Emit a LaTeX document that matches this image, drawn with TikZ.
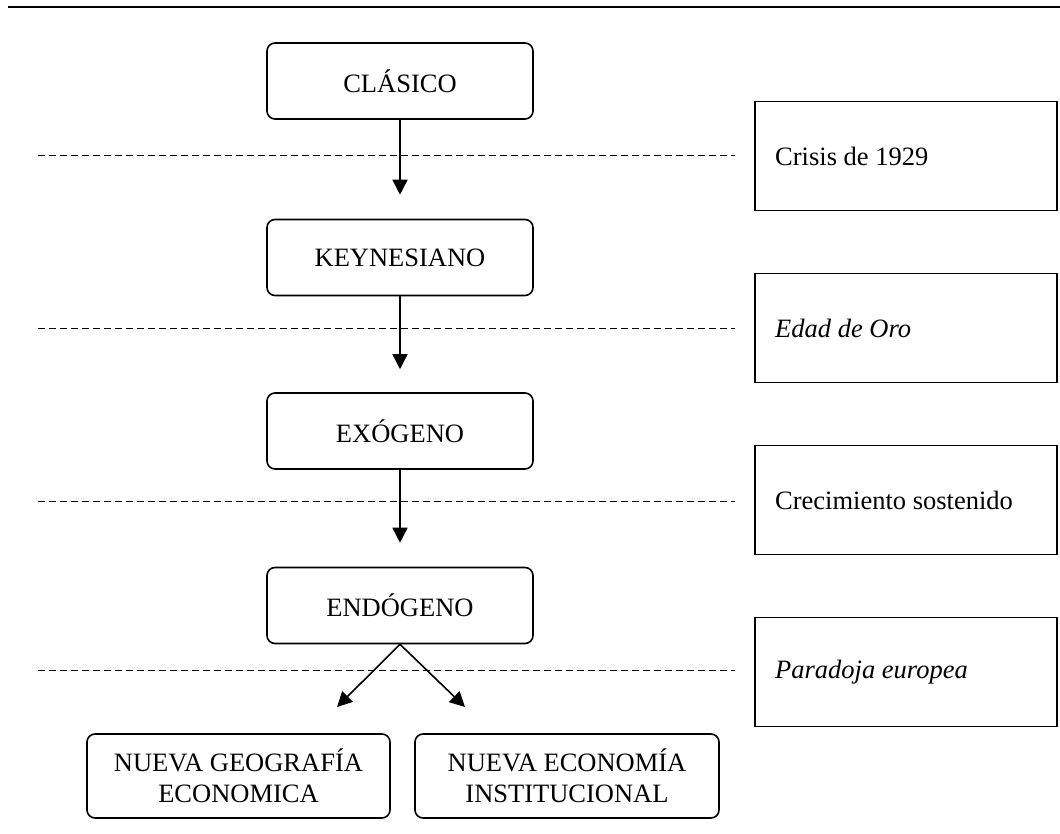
\documentclass[tikz,border=0pt]{standalone}
\usepackage{fontspec}
\setmainfont{Liberation Serif}
\usetikzlibrary{arrows.meta}

\tikzset{
  txt/.style={font=\fontsize{26.5}{31}\selectfont},
  stage/.style={txt, draw, line width=1.6pt, rounded corners=8pt, inner sep=0pt,
    minimum width=266pt, minimum height=76pt, align=center},
  finalbox/.style={txt, draw, line width=1.6pt, rounded corners=8pt, inner sep=0pt,
    minimum height=84pt, align=center},
  event/.style={draw, line width=1.6pt, inner sep=0pt, minimum width=302pt, minimum height=109pt},
  eventtxt/.style={txt, anchor=west, inner sep=0pt},
  flow/.style={line width=1.6pt, -{Triangle[length=15pt,width=15pt]}},
  divider/.style={line width=0.9pt, dash pattern=on 7pt off 4pt},
}

\begin{document}
\begin{tikzpicture}[x=1pt, y=-1pt]
\useasboundingbox (0,0) rectangle (1060,834);

% rule under the page header
\draw[line width=1.8pt] (8,7) -- (1060,7);

% main sequence of schools
\node[stage] (clasico) at (400,81) {CLÁSICO};
\node[stage] (keynes)  at (400,257.5) {KEYNESIANO};
\node[stage] (exo)     at (400,431) {EXÓGENO};
\node[stage] (endo)    at (400,605.5) {ENDÓGENO};

% the two branches
\node[finalbox, minimum width=303pt] (geo) at (238.5,776) {NUEVA GEOGRAFÍA\\ECONOMICA};
\node[finalbox, minimum width=304pt] (inst) at (567,776) {NUEVA ECONOMÍA\\INSTITUCIONAL};

% turning points
\node[event] (crisis) at (906,156) {};
\node[eventtxt] at (775,156) {Crisis de 1929};
\node[event] (oro) at (906,328) {};
\node[eventtxt] at (775,328) {\itshape Edad de Oro};
\node[event] (crec) at (906,500) {};
\node[eventtxt] at (775,500) {Crecimiento sostenido};
\node[event] (parad) at (906,672) {};
\node[eventtxt] at (775,672) {\itshape Paradoja europea};

% dashed separators
\foreach \yy in {155,328,501,670}
  \draw[divider] (38,\yy) -- (735,\yy);

% arrows
\draw[flow, shorten >=24pt] (clasico.south) -- (keynes.north);
\draw[flow, shorten >=23pt] (keynes.south) -- (exo.north);
\draw[flow, shorten >=24pt] (exo.south) -- (endo.north);

\coordinate (tipL) at (337,707);
\coordinate (tipR) at (465,707);
\draw[flow] (endo.south) -- (tipL);
\draw[flow] (endo.south) -- (tipR);
\end{tikzpicture}
\end{document}
